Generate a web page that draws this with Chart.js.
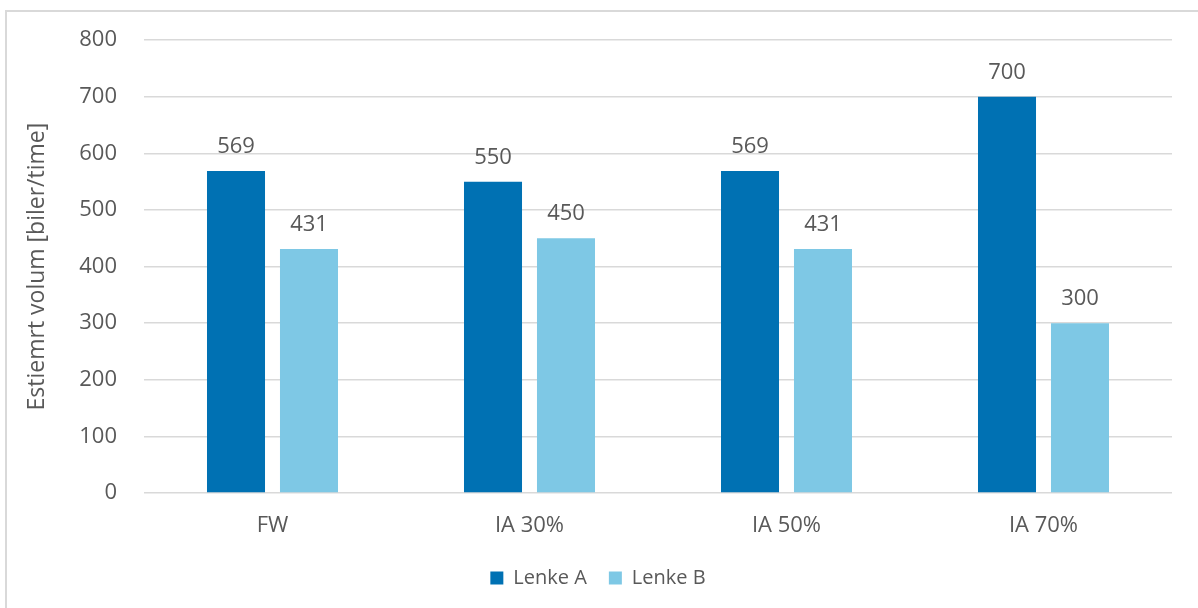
<!DOCTYPE html>
<html>
<head>
<meta charset="utf-8">
<script src="https://cdn.jsdelivr.net/npm/chart.js@4"></script>
<style>
  html, body { margin: 0; padding: 0; background: #fff; overflow: hidden; }
  #frame { position: absolute; left: 5px; top: 10px; width: 1200px; height: 610px; border: 2px solid #d9d9d9; box-sizing: border-box; }
  #wrap { position: absolute; left: 0; top: 0; width: 1198px; height: 608px; }
</style>
</head>
<body>
<div id="frame"></div>
<div id="wrap"><canvas id="volumChart" width="1198" height="608"></canvas></div>
<script>
// Scenarier og estimert volum per lenke
const categories = ['FW', 'IA 30%', 'IA 50%', 'IA 70%'];
const lenkeA = [569, 550, 569, 700];
const lenkeB = [431, 450, 431, 300];
const yTicks = [0, 100, 200, 300, 400, 500, 600, 700, 800];

const textColor = '#595959';
const fontFamily = '"Open Sans", "Noto Sans", sans-serif';

// Verdietiketter over hver søyle
const valueLabels = {
    id: 'valueLabels',
    afterDatasetsDraw(chart) {
        const ctx = chart.ctx;
        ctx.save();
        ctx.font = '22px ' + fontFamily;
        ctx.fillStyle = textColor;
        ctx.textAlign = 'center';
        ctx.textBaseline = 'alphabetic';
        chart.data.datasets.forEach((ds, i) => {
            chart.getDatasetMeta(i).data.forEach((bar, j) => {
                ctx.fillText(ds.data[j], bar.x, bar.y - 18);
            });
        });
        ctx.restore();
    }
};

const ctx = document.getElementById('volumChart').getContext('2d');
new Chart(ctx, {
    type: 'bar',
    data: {
        labels: categories,
        datasets: [
            { label: 'Lenke A', data: lenkeA, backgroundColor: '#0071b3' },
            { label: 'Lenke B', data: lenkeB, backgroundColor: '#7ec8e5' }
        ]
    },
    options: {
        responsive: false,
        animation: false,
        categoryPercentage: 0.568,
        barPercentage: 0.795,
        layout: { padding: { left: 24, right: 26, top: 40, bottom: 10 } },
        plugins: {
            legend: {
                position: 'bottom',
                labels: {
                    boxWidth: 13, boxHeight: 13, padding: 22,
                    color: textColor,
                    font: { family: fontFamily, size: 20 }
                }
            },
            tooltip: { enabled: false }
        },
        scales: {
            y: {
                min: 0, max: 800,
                afterBuildTicks: (scale) => { scale.ticks = yTicks.map(v => ({ value: v })); },
                afterFit: (scale) => { scale.width = 120; },
                border: { display: false },
                grid: { color: '#d9d9d9', lineWidth: 1.5, drawTicks: false },
                ticks: { color: textColor, padding: 27, font: { family: fontFamily, size: 22 } },
                title: {
                    display: true, text: 'Estiemrt volum [biler/time]',
                    color: textColor, font: { family: fontFamily, size: 23 },
                    padding: { top: 0, bottom: 0 }
                }
            },
            x: {
                afterFit: (scale) => { scale.height = 53; },
                border: { display: false },
                grid: { display: false },
                ticks: { color: textColor, padding: 12, font: { family: fontFamily, size: 22 } }
            }
        }
    },
    plugins: [valueLabels]
});
</script>
</body>
</html>
